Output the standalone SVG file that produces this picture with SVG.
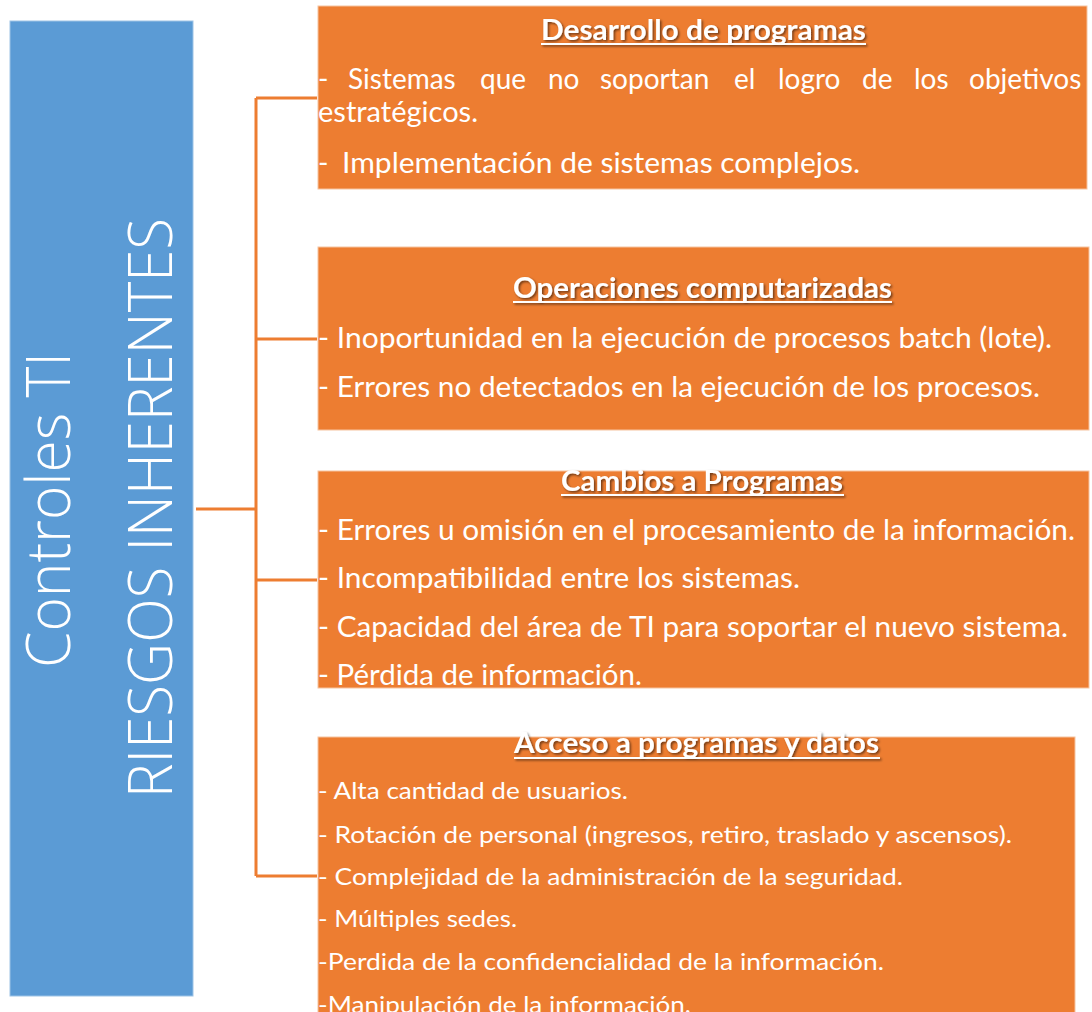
<svg xmlns="http://www.w3.org/2000/svg" width="1092" height="1012" viewBox="0 0 1092 1012">
<defs>
<filter id="sh" x="-5%" y="-50%" width="110%" height="200%">
<feDropShadow dx="1.5" dy="1.5" stdDeviation="0.8" flood-color="#000" flood-opacity="0.55"/>
</filter>
<style>
.box{fill:#ED7D31;stroke:#F6C4A0;stroke-width:1}
.blue{fill:#5B9BD5;stroke:#9DC3E6;stroke-width:1}
.big{font-family:"Open Sans","Liberation Sans",sans-serif;font-weight:300;font-size:60px;fill:#fff}
.t{font-family:Lato,"Open Sans","Liberation Sans",sans-serif;font-size:28px;fill:#fff}
.s{font-family:Lato,"Open Sans","Liberation Sans",sans-serif;font-size:24px;fill:#fff}
.h{font-family:Lato,"Open Sans","Liberation Sans",sans-serif;font-size:28px;font-weight:bold;fill:#fff}
.ul{fill:#fff}
.c{fill:none;stroke:#ED7D31;stroke-width:3}
</style>
</defs>
<rect width="1092" height="1012" fill="#fff"/>

<g id="connectors">
<path class="c" d="M196,509 H256 M256,98 V876 M256,98 H317 M256,339 H317 M256,580 H317 M256,876 H317"/>
</g>

<g id="root">
<rect class="blue" x="10" y="21" width="183" height="975"/>
<text class="big" transform="translate(70,668) rotate(-90)" textLength="316" lengthAdjust="spacingAndGlyphs">Controles TI</text>
<text class="big" transform="translate(172,798) rotate(-90)" textLength="580" lengthAdjust="spacingAndGlyphs">RIESGOS INHERENTES</text>
</g>

<g id="desarrollo">
<rect class="box" x="318" y="6" width="769" height="183"/>
<g filter="url(#sh)">
<text class="h" x="541" y="40" textLength="325" lengthAdjust="spacingAndGlyphs">Desarrollo de programas</text>
<rect class="ul" x="541" y="43" width="325" height="2"/>
</g>
<text class="t" y="89"><tspan x="318">-</tspan><tspan x="348">Sistemas</tspan><tspan x="480">que</tspan><tspan x="548">no</tspan><tspan x="600">soportan</tspan><tspan x="734">el</tspan><tspan x="778">logro</tspan><tspan x="862">de</tspan><tspan x="914">los</tspan><tspan x="969">objetivos</tspan></text>
<text class="t" x="318" y="122" textLength="160" lengthAdjust="spacingAndGlyphs">estratégicos.</text>
<text class="t" y="173"><tspan x="318">-</tspan><tspan x="342" textLength="518" lengthAdjust="spacingAndGlyphs">Implementación de sistemas complejos.</tspan></text>
</g>

<g id="operaciones">
<rect class="box" x="318" y="247" width="771" height="183"/>
<g filter="url(#sh)">
<text class="h" x="513" y="298" textLength="379" lengthAdjust="spacingAndGlyphs">Operaciones computarizadas</text>
<rect class="ul" x="513" y="301" width="379" height="2"/>
</g>
<text class="t" x="318" y="348" textLength="734" lengthAdjust="spacingAndGlyphs">- Inoportunidad en la ejecución de procesos batch (lote).</text>
<text class="t" x="318" y="397" textLength="722" lengthAdjust="spacingAndGlyphs">- Errores no detectados en la ejecución de los procesos.</text>
</g>

<g id="cambios">
<rect class="box" x="318" y="471" width="771" height="217"/>
<g filter="url(#sh)">
<text class="h" x="561" y="491" textLength="282" lengthAdjust="spacingAndGlyphs">Cambios a Programas</text>
<rect class="ul" x="561" y="494" width="283" height="2"/>
</g>
<text class="t" x="318" y="540" textLength="757" lengthAdjust="spacingAndGlyphs">- Errores u omisión en el procesamiento de la información.</text>
<text class="t" x="318" y="588" textLength="482" lengthAdjust="spacingAndGlyphs">- Incompatibilidad entre los sistemas.</text>
<text class="t" x="318" y="637" textLength="750" lengthAdjust="spacingAndGlyphs">- Capacidad del área de TI para soportar el nuevo sistema.</text>
<text class="t" x="318" y="685" textLength="324" lengthAdjust="spacingAndGlyphs">- Pérdida de información.</text>
</g>

<g id="acceso">
<rect class="box" x="318" y="737" width="757" height="280"/>
<g filter="url(#sh)">
<text class="h" x="514" y="753" textLength="365" lengthAdjust="spacingAndGlyphs">Acceso a programas y datos</text>
<rect class="ul" x="514" y="757" width="366" height="2"/>
</g>
<text class="s" x="318" y="799" textLength="310" lengthAdjust="spacingAndGlyphs">- Alta cantidad de usuarios.</text>
<text class="s" x="318" y="843" textLength="694" lengthAdjust="spacingAndGlyphs">- Rotación de personal (ingresos, retiro, traslado y ascensos).</text>
<text class="s" x="318" y="885" textLength="585" lengthAdjust="spacingAndGlyphs">- Complejidad de la administración de la seguridad.</text>
<text class="s" x="318" y="927" textLength="199" lengthAdjust="spacingAndGlyphs">- Múltiples sedes.</text>
<text class="s" x="318" y="970" textLength="566" lengthAdjust="spacingAndGlyphs">-Perdida de la confidencialidad de la información.</text>
<text class="s" x="318" y="1013" textLength="373" lengthAdjust="spacingAndGlyphs">-Manipulación de la información.</text>
</g>
</svg>
